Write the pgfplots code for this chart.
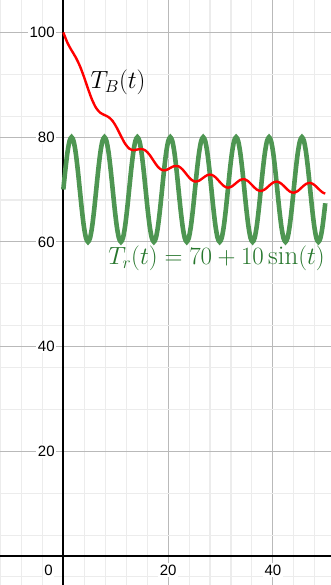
\documentclass[border=0pt]{standalone}
\usepackage{fontspec}
\usepackage{pgfplots}
\pgfplotsset{compat=1.18}
\newfontfamily\tickfont{Liberation Sans}
\definecolor{curvegreen}{RGB}{78,150,82}
\definecolor{labelgreen}{RGB}{38,118,44}
\definecolor{majgrid}{RGB}{185,185,185}
\definecolor{mingrid}{RGB}{236,236,236}
\begin{document}
\begin{tikzpicture}
\begin{axis}[
  scale only axis, width=331pt, height=585pt,
  xmin=-12.09, xmax=51.1, ymin=-5.54, ymax=106.2,
  axis lines=middle,
  axis line style={black, line width=1.8pt, -},
  xtick={20,40}, ytick={20,40,60,80,100},
  minor xtick={-12,-8,...,48}, minor ytick={-4,4,...,104},
  grid=both,
  major grid style={draw=majgrid, line width=1.1pt},
  minor grid style={draw=mingrid, line width=1.1pt},
  major tick length=0pt, minor tick length=0pt,
  /pgf/number format/assume math mode=true,
  tick label style={font=\tickfont\fontsize{15}{18}\selectfont, fill=white, inner sep=1.5pt},
  yticklabel style={anchor=east, xshift=-7pt},
  xticklabel style={anchor=north, yshift=-7pt},
]
\coordinate (SW) at (rel axis cs:0,0);
\coordinate (NE) at (rel axis cs:1,1);
\addplot[curvegreen, line width=4.6pt, smooth] coordinates {
(0,70) (0.3927,73.827) (0.7854,77.071) (1.1781,79.239) (1.5708,80) (1.9635,79.239) (2.3562,77.071) (2.7489,73.827)
(3.1416,70) (3.5343,66.173) (3.9270,62.929) (4.3197,60.761) (4.7124,60) (5.1051,60.761) (5.4978,62.929) (5.8905,66.173)
(6.2832,70) (6.6759,73.827) (7.0686,77.071) (7.4613,79.239) (7.8540,80) (8.2467,79.239) (8.6394,77.071) (9.0321,73.827)
(9.4248,70) (9.8175,66.173) (10.2102,62.929) (10.6029,60.761) (10.9956,60) (11.3883,60.761) (11.7810,62.929) (12.1737,66.173)
(12.5664,70) (12.9591,73.827) (13.3518,77.071) (13.7445,79.239) (14.1372,80) (14.5299,79.239) (14.9226,77.071) (15.3153,73.827)
(15.7080,70) (16.1007,66.173) (16.4934,62.929) (16.8861,60.761) (17.2788,60) (17.6715,60.761) (18.0642,62.929) (18.4569,66.173)
(18.8496,70) (19.2423,73.827) (19.6350,77.071) (20.0277,79.239) (20.4204,80) (20.8131,79.239) (21.2058,77.071) (21.5984,73.827)
(21.9911,70) (22.3838,66.173) (22.7765,62.929) (23.1692,60.761) (23.5619,60) (23.9546,60.761) (24.3473,62.929) (24.7400,66.173)
(25.1327,70) (25.5254,73.827) (25.9181,77.071) (26.3108,79.239) (26.7035,80) (27.0962,79.239) (27.4889,77.071) (27.8816,73.827)
(28.2743,70) (28.6670,66.173) (29.0597,62.929) (29.4524,60.761) (29.8451,60) (30.2378,60.761) (30.6305,62.929) (31.0232,66.173)
(31.4159,70) (31.8086,73.827) (32.2013,77.071) (32.5940,79.239) (32.9867,80) (33.3794,79.239) (33.7721,77.071) (34.1648,73.827)
(34.5575,70) (34.9502,66.173) (35.3429,62.929) (35.7356,60.761) (36.1283,60) (36.5210,60.761) (36.9137,62.929) (37.3064,66.173)
(37.6991,70) (38.0918,73.827) (38.4845,77.071) (38.8772,79.239) (39.2699,80) (39.6626,79.239) (40.0553,77.071) (40.4480,73.827)
(40.8407,70) (41.2334,66.173) (41.6261,62.929) (42.0188,60.761) (42.4115,60) (42.8042,60.761) (43.1969,62.929) (43.5896,66.173)
(43.9823,70) (44.3750,73.827) (44.7677,77.071) (45.1604,79.239) (45.5531,80) (45.9458,79.239) (46.3385,77.071) (46.7312,73.827)
(47.1239,70) (47.5166,66.173) (47.9093,62.929) (48.3020,60.761) (48.6947,60) (49.0874,60.761) (49.4801,62.929) (49.8728,66.173)
(50,67.38)
};
\addplot[red, line width=2.4pt, smooth] coordinates {
(0,100.00) (0.7854,98.02) (1.5708,96.58) (2.3562,95.26) (3.1416,93.63) (3.9270,91.56) (4.7124,89.25) (5.4978,87.11)
(6.2832,85.54) (7.0686,84.65) (7.8540,84.23) (8.6394,83.83) (9.4248,83.07) (10.2102,81.79) (10.9956,80.22) (11.7810,78.77)
(12.5664,77.83) (13.3518,77.52) (14.1372,77.64) (14.9226,77.74) (15.7080,77.43) (16.4934,76.59) (17.2788,75.41) (18.0642,74.32)
(18.8496,73.72) (19.6350,73.72) (20.4204,74.12) (21.2058,74.49) (21.9911,74.43) (22.7765,73.81) (23.5619,72.84) (24.3473,71.95)
(25.1327,71.52) (25.9181,71.69) (26.7035,72.24) (27.4889,72.75) (28.2743,72.82) (29.0597,72.33) (29.8451,71.47) (30.6305,70.68)
(31.4159,70.35) (32.2013,70.61) (32.9867,71.24) (33.7721,71.83) (34.5575,71.97) (35.3429,71.53) (36.1283,70.74) (36.9137,70.00)
(37.6991,69.72) (38.4845,70.03) (39.2699,70.71) (40.0553,71.33) (40.8407,71.51) (41.6261,71.11) (42.4115,70.35) (43.1969,69.64)
(43.9823,69.39) (44.7677,69.72) (45.5531,70.43) (46.3385,71.07) (47.1239,71.27) (47.9093,70.89) (48.6947,70.14) (49.4801,69.45)
(50,69.23)
};
\node[font=\tickfont\fontsize{15}{18}\selectfont, fill=white, inner sep=1.5pt, anchor=north, yshift=-7pt] at (axis cs:-2.8,0) {0};
\node[font=\fontsize{27}{32}\selectfont] at (axis cs:10.45,90.4) {$T_B(t)$};
\node[font=\fontsize{27}{32}\selectfont, text=labelgreen] at (axis cs:29.25,56.8) {$T_r(t) = 70 + 10\sin(t)$};
\end{axis}
\pgfresetboundingbox
\path (SW) rectangle (NE);
\end{tikzpicture}
\end{document}
